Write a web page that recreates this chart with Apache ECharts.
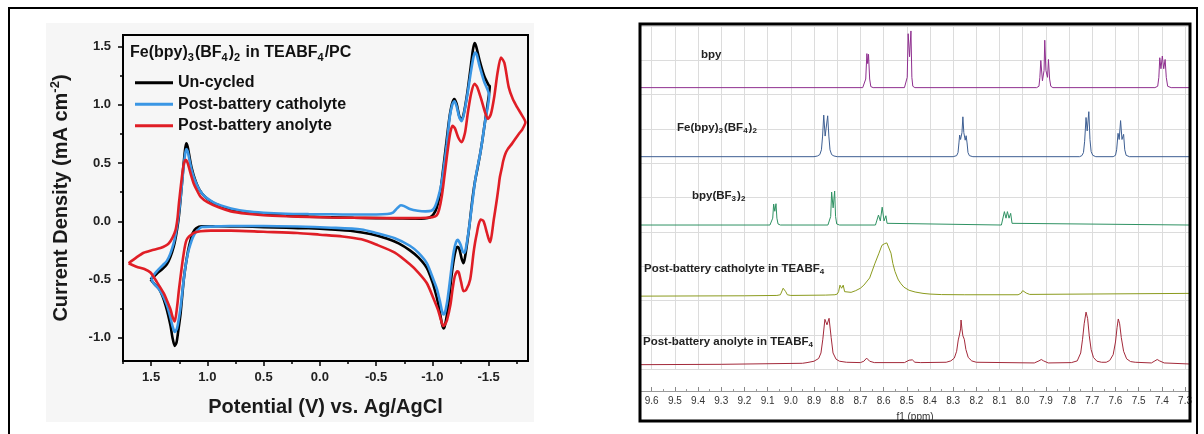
<!DOCTYPE html>
<html><head><meta charset="utf-8">
<script src="https://cdn.jsdelivr.net/npm/echarts@6/dist/echarts.min.js"></script>
<style>html,body{margin:0;padding:0;background:#fff}#c{width:1204px;height:434px}</style>
</head><body><div id="c"></div>
<script>
// ---------------- CV panel data ----------------
const cvNames = ['Un-cycled', 'Post-battery catholyte', 'Post-battery anolyte'];
const cvXTicks = [-1.5, -1.0, -0.5, 0.0, 0.5, 1.0, 1.5];
const cvXMinorTicks = [-1.75, -1.25, -0.75, -0.25, 0.25, 0.75, 1.25, 1.75];
const cvYTicks = [-1.0, -0.5, 0.0, 0.5, 1.0, 1.5];
const cvYMinorTicks = [-0.75, -0.25, 0.25, 0.75, 1.25];

const uncycledCV = [
 [1.505,-0.50],[1.45,-0.45],[1.40,-0.41],[1.36,-0.37],[1.33,-0.31],[1.30,-0.22],[1.28,-0.13],[1.26,-0.01],
 [1.245,0.12],[1.23,0.28],[1.215,0.45],[1.20,0.60],[1.188,0.67],[1.175,0.64],[1.16,0.56],[1.14,0.46],
 [1.11,0.36],[1.07,0.27],[1.02,0.21],[0.95,0.16],[0.88,0.13],[0.79,0.10],[0.65,0.075],[0.5,0.06],
 [0.3,0.048],[0.1,0.04],[-0.1,0.035],[-0.3,0.03],[-0.5,0.027],[-0.7,0.024],[-0.85,0.022],[-0.93,0.024],
 [-0.98,0.035],[-1.01,0.06],[-1.04,0.12],[-1.07,0.25],[-1.09,0.40],[-1.12,0.64],[-1.15,0.88],[-1.175,1.01],
 [-1.195,1.05],[-1.215,1.01],[-1.24,0.90],[-1.26,0.87],[-1.28,0.93],[-1.31,1.10],[-1.34,1.32],[-1.36,1.47],
 [-1.375,1.53],[-1.39,1.50],[-1.42,1.38],[-1.46,1.25],[-1.50,1.17],[-1.51,1.16],
 [-1.49,1.00],[-1.47,0.87],[-1.445,0.70],[-1.425,0.58],[-1.40,0.45],[-1.38,0.35],[-1.36,0.22],[-1.345,0.10],
 [-1.33,-0.03],[-1.31,-0.18],[-1.29,-0.31],[-1.277,-0.36],[-1.26,-0.32],[-1.24,-0.24],[-1.223,-0.22],
 [-1.21,-0.24],[-1.19,-0.33],[-1.17,-0.47],[-1.15,-0.65],[-1.13,-0.80],[-1.11,-0.90],[-1.098,-0.92],
 [-1.085,-0.88],[-1.07,-0.80],[-1.05,-0.70],[-1.03,-0.62],[-1.0,-0.52],[-0.95,-0.40],[-0.875,-0.31],
 [-0.8,-0.25],[-0.7,-0.19],[-0.6,-0.15],[-0.45,-0.11],[-0.3,-0.085],[-0.1,-0.07],[0.1,-0.06],[0.3,-0.055],
 [0.5,-0.05],[0.7,-0.045],[0.9,-0.043],[1.05,-0.043],[1.10,-0.06],[1.13,-0.10],[1.164,-0.22],[1.19,-0.36],
 [1.21,-0.50],[1.238,-0.79],[1.26,-0.95],[1.274,-1.04],[1.29,-1.07],[1.31,-1.00],[1.327,-0.90],[1.35,-0.80],
 [1.372,-0.72],[1.40,-0.64],[1.43,-0.58],[1.47,-0.54],[1.505,-0.50]
];
const catholyteCV = [
 [1.50,-0.49],[1.45,-0.43],[1.40,-0.38],[1.36,-0.34],[1.33,-0.28],[1.30,-0.19],[1.28,-0.10],[1.26,0.02],
 [1.245,0.14],[1.23,0.28],[1.215,0.43],[1.20,0.56],[1.188,0.62],[1.175,0.60],[1.16,0.53],[1.14,0.44],
 [1.11,0.35],[1.07,0.27],[1.02,0.21],[0.95,0.165],[0.88,0.135],[0.79,0.11],[0.65,0.085],[0.5,0.073],
 [0.3,0.065],[0.1,0.062],[-0.1,0.06],[-0.3,0.058],[-0.5,0.058],[-0.6,0.062],[-0.65,0.075],[-0.69,0.115],
 [-0.72,0.138],[-0.75,0.13],[-0.8,0.105],[-0.87,0.09],[-0.94,0.085],[-0.99,0.09],[-1.02,0.12],[-1.05,0.20],
 [-1.08,0.32],[-1.10,0.45],[-1.128,0.66],[-1.155,0.90],[-1.18,1.01],[-1.196,1.03],[-1.215,0.99],[-1.24,0.89],
 [-1.26,0.86],[-1.28,0.92],[-1.31,1.08],[-1.34,1.27],[-1.365,1.41],[-1.38,1.45],[-1.395,1.43],[-1.42,1.33],
 [-1.46,1.20],[-1.505,1.08],
 [-1.49,0.97],[-1.47,0.866],[-1.445,0.70],[-1.425,0.58],[-1.40,0.46],[-1.38,0.35],[-1.36,0.20],[-1.35,0.125],
 [-1.335,0.01],[-1.32,-0.10],[-1.30,-0.22],[-1.285,-0.27],[-1.27,-0.26],[-1.25,-0.20],[-1.225,-0.16],
 [-1.21,-0.18],[-1.19,-0.26],[-1.17,-0.40],[-1.15,-0.56],[-1.13,-0.70],[-1.11,-0.79],[-1.098,-0.80],
 [-1.085,-0.77],[-1.07,-0.70],[-1.04,-0.58],[-1.009,-0.50],[-0.95,-0.36],[-0.875,-0.27],[-0.8,-0.21],
 [-0.666,-0.145],[-0.5,-0.10],[-0.37,-0.07],[-0.1,-0.055],[0.2,-0.045],[0.5,-0.04],[0.8,-0.04],[0.95,-0.045],
 [1.05,-0.05],[1.12,-0.12],[1.164,-0.24],[1.19,-0.36],[1.21,-0.50],[1.24,-0.75],[1.27,-0.92],[1.29,-0.95],
 [1.31,-0.90],[1.33,-0.82],[1.36,-0.72],[1.40,-0.63],[1.44,-0.57],[1.48,-0.53],[1.50,-0.49]
];
const anolyteCV = [
 [1.70,-0.36],[1.63,-0.31],[1.566,-0.27],[1.50,-0.25],[1.417,-0.23],[1.37,-0.21],[1.343,-0.19],[1.31,-0.14],
 [1.283,-0.075],[1.265,0.03],[1.253,0.154],[1.235,0.31],[1.214,0.47],[1.20,0.52],[1.19,0.525],[1.175,0.50],
 [1.149,0.41],[1.12,0.32],[1.09,0.26],[1.06,0.21],[1.0,0.165],[0.9,0.12],[0.79,0.085],[0.65,0.065],
 [0.5,0.052],[0.3,0.043],[0.1,0.037],[-0.1,0.032],[-0.3,0.03],[-0.5,0.028],[-0.7,0.027],[-0.85,0.027],
 [-0.95,0.03],[-1.0,0.035],[-1.038,0.05],[-1.06,0.10],[-1.083,0.21],[-1.105,0.37],[-1.128,0.55],[-1.157,0.75],
 [-1.179,0.82],[-1.20,0.80],[-1.23,0.72],[-1.26,0.68],[-1.29,0.76],[-1.315,0.93],[-1.345,1.10],[-1.375,1.18],
 [-1.40,1.15],[-1.44,1.03],[-1.47,0.93],[-1.494,0.88],[-1.52,0.92],[-1.55,1.07],[-1.58,1.28],[-1.61,1.407],
 [-1.64,1.36],[-1.679,1.15],[-1.715,1.05],[-1.753,0.98],[-1.79,0.92],[-1.827,0.85],
 [-1.80,0.79],[-1.768,0.75],[-1.708,0.667],[-1.67,0.62],[-1.649,0.58],[-1.63,0.52],[-1.619,0.467],[-1.60,0.38],
 [-1.589,0.30],[-1.575,0.20],[-1.559,0.097],[-1.545,0.01],[-1.53,-0.10],[-1.514,-0.18],[-1.50,-0.15],
 [-1.485,-0.10],[-1.455,0.0],[-1.43,0.015],[-1.41,-0.03],[-1.396,-0.10],[-1.38,-0.18],[-1.366,-0.27],
 [-1.336,-0.50],[-1.30,-0.59],[-1.277,-0.60],[-1.255,-0.52],[-1.235,-0.44],[-1.223,-0.43],[-1.20,-0.47],
 [-1.18,-0.58],[-1.16,-0.72],[-1.13,-0.85],[-1.11,-0.89],[-1.098,-0.90],[-1.08,-0.86],[-1.05,-0.76],
 [-1.009,-0.66],[-0.95,-0.53],[-0.875,-0.44],[-0.8,-0.37],[-0.666,-0.27],[-0.5,-0.20],[-0.37,-0.155],
 [-0.2,-0.13],[0.0,-0.115],[0.2,-0.10],[0.5,-0.09],[0.79,-0.08],[0.97,-0.08],[1.06,-0.085],[1.12,-0.10],
 [1.185,-0.16],[1.214,-0.30],[1.235,-0.45],[1.253,-0.59],[1.27,-0.74],[1.29,-0.86],[1.31,-0.82],[1.327,-0.76],
 [1.36,-0.68],[1.387,-0.62],[1.45,-0.52],[1.506,-0.44],[1.56,-0.41],[1.63,-0.39],[1.70,-0.36]
];

// ---------------- NMR panel data ----------------
const nmrNames = ['bpy', 'Fe(bpy)3(BF4)2', 'bpy(BF3)2', 'Post-battery catholyte in TEABF4', 'Post-battery anolyte in TEABF4'];
const nmrTicks = [9.6,9.5,9.4,9.3,9.2,9.1,9.0,8.9,8.8,8.7,8.6,8.5,8.4,8.3,8.2,8.1,8.0,7.9,7.8,7.7,7.6,7.5,7.4,7.3];
const nmrMinorTicks = [9.55,9.45,9.35,9.25,9.15,9.05,8.95,8.85,8.75,8.65,8.55,8.45,8.35,8.25,8.15,8.05,7.95,7.85,7.75,7.65,7.55,7.45,7.35];

const bpySpec = [
 [9.646,0],[8.69,0],[8.682,0.03],[8.677,0.25],[8.672,0.99],[8.6685,0.7],[8.665,0.97],[8.660,0.25],[8.655,0.03],[8.645,0],
 [8.51,0],[8.502,0.04],[8.498,0.3],[8.494,1.57],[8.488,0.9],[8.482,1.65],[8.478,0.3],[8.474,0.04],[8.465,0],
 [7.94,0],[7.93,0.04],[7.926,0.3],[7.922,0.79],[7.915,0.2],[7.908,0.5],[7.905,1.38],[7.90,0.5],[7.893,0.3],
 [7.889,0.82],[7.884,0.25],[7.879,0.04],[7.87,0],
 [7.43,0],[7.418,0.04],[7.413,0.3],[7.409,0.87],[7.404,0.55],[7.398,0.92],[7.392,0.55],[7.386,0.82],[7.381,0.3],
 [7.375,0.04],[7.36,0],[7.283,0]
];
const feSpec = [
 [9.646,0],[8.90,0],[8.885,0.02],[8.875,0.06],[8.868,0.2],[8.863,0.6],[8.858,1.21],[8.852,0.6],[8.849,0.55],
 [8.841,1.19],[8.836,0.6],[8.831,0.2],[8.824,0.06],[8.814,0.02],[8.80,0],
 [8.30,0],[8.285,0.03],[8.279,0.12],[8.275,0.4],[8.272,0.63],[8.268,0.5],[8.262,0.7],[8.258,1.16],[8.254,0.7],
 [8.248,0.48],[8.244,0.61],[8.24,0.4],[8.236,0.12],[8.23,0.03],[8.215,0],
 [7.755,0],[7.745,0.03],[7.738,0.12],[7.733,0.45],[7.727,1.14],[7.722,0.75],[7.715,1.31],[7.71,0.5],[7.705,0.15],
 [7.698,0.04],[7.685,0],
 [7.61,0],[7.60,0.04],[7.595,0.2],[7.589,0.68],[7.584,0.5],[7.578,1.05],[7.572,0.5],[7.565,0.65],[7.56,0.2],
 [7.554,0.04],[7.54,0],[7.283,0]
];
const bf3Spec = [
 [9.646,0],[9.09,0],[9.082,0.03],[9.078,0.2],[9.074,0.61],[9.069,0.4],[9.064,0.62],[9.06,0.2],[9.055,0.03],[9.045,0],
 [8.84,0],[8.832,0.03],[8.828,0.25],[8.824,0.96],[8.8175,0.5],[8.811,0.99],[8.807,0.25],[8.802,0.03],[8.79,0],
 [8.635,0],[8.627,0.05],[8.622,0.29],[8.614,0.12],[8.606,0.52],[8.598,0.12],[8.59,0.27],[8.585,0.05],[8.577,0],
 [8.092,0],[8.085,0.05],[8.079,0.39],[8.072,0.2],[8.066,0.39],[8.059,0.2],[8.052,0.34],[8.046,0.05],[8.04,0],
 [7.283,0]
];
const catholyteNMR = [
 [9.646,-0.03],[9.2,-0.02],[9.06,-0.01],[9.045,0.01],[9.038,0.12],[9.033,0.2],[9.028,0.19],[9.022,0.1],[9.015,0.01],
 [9.0,-0.01],[8.85,0.0],[8.81,0.01],[8.80,0.03],[8.794,0.1],[8.788,0.29],[8.781,0.2],[8.774,0.29],[8.768,0.1],
 [8.76,0.07],[8.74,0.08],[8.72,0.13],[8.70,0.2],[8.685,0.29],[8.66,0.5],[8.638,0.91],[8.62,1.22],[8.607,1.45],
 [8.595,1.5],[8.586,1.52],[8.578,1.48],[8.568,1.22],[8.56,0.92],[8.551,0.69],[8.54,0.5],[8.536,0.44],[8.525,0.33],
 [8.512,0.23],[8.49,0.14],[8.464,0.09],[8.43,0.05],[8.40,0.03],[8.35,0.015],[8.25,0.01],
 [8.02,0.01],[8.008,0.05],[8.0,0.13],[7.993,0.14],[7.985,0.06],[7.97,0.02],[7.283,0.05]
];
const anolyteNMR = [
 [9.646,-0.04],[9.3,-0.03],[8.95,0.0],[8.93,0.02],[8.9,0.06],[8.88,0.14],[8.87,0.3],[8.862,0.7],[8.853,1.28],
 [8.844,1.12],[8.835,1.31],[8.826,0.75],[8.818,0.3],[8.805,0.12],[8.79,0.06],[8.76,0.03],
 [8.70,0.02],[8.685,0.06],[8.673,0.15],[8.66,0.06],[8.64,0.02],
 [8.51,0.02],[8.49,0.09],[8.484,0.11],[8.476,0.1],[8.465,0.03],[8.44,0.02],
 [8.33,0.03],[8.31,0.07],[8.295,0.15],[8.285,0.35],[8.278,0.68],[8.273,0.82],[8.268,1.0],[8.266,1.26],[8.262,1.0],
 [8.258,0.8],[8.252,0.7],[8.245,0.4],[8.235,0.17],[8.22,0.07],[8.2,0.03],
 [7.95,0.01],[7.93,0.07],[7.92,0.11],[7.91,0.07],[7.89,0.01],
 [7.79,0.02],[7.765,0.07],[7.75,0.3],[7.742,0.7],[7.735,1.15],[7.727,1.49],[7.72,1.3],[7.713,0.8],[7.705,0.4],
 [7.695,0.17],[7.68,0.06],[7.66,0.03],
 [7.64,0.03],[7.625,0.08],[7.61,0.25],[7.60,0.62],[7.593,1.05],[7.588,1.29],[7.582,1.15],[7.575,0.75],[7.565,0.35],
 [7.552,0.13],[7.535,0.05],[7.515,0.03],
 [7.445,0.01],[7.43,0.07],[7.42,0.11],[7.41,0.07],[7.39,0.01],[7.283,-0.02]
];
const nmrStackOffsets = [8.2, 6.19, 4.2, 2.16, 0.175];

// ---------------- build ----------------
const FONT = '"Liberation Sans", Arial, sans-serif';
const cvColors = ['#000000', '#3a96e4', '#e01e26'];
const nmrColors = ['#8f2f8f', '#3e5f93', '#2f9263', '#8b9b1e', '#a3293a'];
const cvData = [uncycledCV, catholyteCV, anolyteCV];
const nmrData = [bpySpec, feSpec, bf3Spec, catholyteNMR, anolyteNMR];

const cvSeries = cvData.map((d, i) => ({
  name: cvNames[i], type: 'line', xAxisIndex: 0, yAxisIndex: 0, data: d,
  symbol: 'none', smooth: 0.25, lineStyle: { color: cvColors[i], width: 2.6 }, itemStyle: { color: cvColors[i] },
  z: 3 + i
}));
const nmrSeries = nmrData.map((d, i) => ({
  name: nmrNames[i], type: 'line', xAxisIndex: 2, yAxisIndex: 2,
  data: d.map(p => [p[0], p[1] + nmrStackOffsets[i]]),
  symbol: 'none', smooth: false, lineStyle: { color: nmrColors[i], width: 1 }, z: 3
}));

function sub(parts) {
  return parts.map(p => (p[1] ? '{s|' : '{m|') + p[0] + '}').join('');
}
function richStyle(fs, lh, sfs, color) {
  return {
    m: { font: 'bold ' + fs + 'px ' + FONT, lineHeight: lh, fill: color, verticalAlign: 'middle' },
    s: { font: 'bold ' + sfs + 'px ' + FONT, lineHeight: Math.round(sfs * 0.8), fill: color, verticalAlign: 'bottom', padding: [0, 1, 0, 0] }
  };
}

const nmrLabelParts = [
  [['bpy', 0]],
  [['Fe(bpy)', 0], ['3', 1], ['(BF', 0], ['4', 1], [')', 0], ['2', 1]],
  [['bpy(BF', 0], ['3', 1], [')', 0], ['2', 1]],
  [['Post-battery catholyte in TEABF', 0], ['4', 1]],
  [['Post-battery anolyte in TEABF', 0], ['4', 1]]
];
const nmrLabelPos = [[701, 48], [677, 121], [692, 189], [644, 262], [643, 335]];

const graphics = [
  { type: 'rect', shape: { x: 46, y: 23, width: 488, height: 399 }, style: { fill: '#f6f6f6' }, z: -10, silent: true },
  { type: 'rect', shape: { x: 9, y: 8, width: 1188, height: 440 }, style: { fill: 'none', stroke: '#000', lineWidth: 2 }, z: 100, silent: true },
  { type: 'rect', shape: { x: 640, y: 24, width: 550, height: 397 }, style: { fill: 'none', stroke: '#000', lineWidth: 3 }, z: 100, silent: true },
  { type: 'text', x: 130, y: 43, z: 50,
    style: { text: sub([['Fe(bpy)', 0], ['3', 1], ['(BF', 0], ['4', 1], [')', 0], ['2', 1], [' in TEABF', 0], ['4', 1], ['/PC', 0]]),
      rich: richStyle(16, 20, 11, '#111') } }
];
nmrLabelParts.forEach((parts, i) => {
  graphics.push({ type: 'text', x: nmrLabelPos[i][0], y: nmrLabelPos[i][1], z: 50,
    style: { text: sub(parts), rich: richStyle(11.5, 14, 8, '#222') } });
});

const chart = echarts.init(document.getElementById('c'), null, { renderer: 'canvas' });
chart.setOption({
  backgroundColor: '#ffffff',
  animation: false,
  legend: {
    data: cvNames.map(n => ({ name: n, icon: 'rect' })), orient: 'vertical', left: 130, top: 67,
    itemWidth: 38, itemHeight: 3, itemGap: 0,
    textStyle: { fontFamily: FONT, fontWeight: 'bold', fontSize: 16, color: '#111', lineHeight: 21.5 },
    selectedMode: false
  },
  grid: [
    { left: 123, top: 35, width: 405, height: 326, show: true, borderColor: '#000', borderWidth: 2, backgroundColor: 'transparent', containLabel: false },
    { left: 641, top: 25.8, width: 548, height: 343.5, show: false, containLabel: false }
  ],
  xAxis: [
    { type: 'value', gridIndex: 0, min: -1.85, max: 1.75, inverse: true, position: 'bottom',
      name: 'Potential (V) vs. Ag/AgCl', nameLocation: 'middle', nameGap: 34,
      nameTextStyle: { fontFamily: FONT, fontWeight: 'bold', fontSize: 20, color: '#1a1a1a', lineHeight: 24 },
      axisLine: { show: true, onZero: false, lineStyle: { color: '#000', width: 2 } },
      axisTick: { show: true, inside: false, length: 5, customValues: cvXTicks, lineStyle: { color: '#000', width: 1.5 } },
      axisLabel: { show: true, customValues: cvXTicks, margin: 10, fontFamily: FONT, fontWeight: 'bold', fontSize: 13, color: '#222',
        formatter: v => Number(v).toFixed(1) },
      splitLine: { show: false } },
    { type: 'value', gridIndex: 0, min: -1.85, max: 1.75, inverse: true, position: 'bottom',
      axisLine: { show: false, onZero: false }, axisLabel: { show: false }, splitLine: { show: false },
      axisTick: { show: true, inside: false, length: 3, customValues: cvXMinorTicks, lineStyle: { color: '#000', width: 1.5 } } },
    { type: 'value', gridIndex: 1, min: 7.283, max: 9.646, inverse: true, position: 'bottom', offset: 21.7,
      name: 'f1 (ppm)', nameLocation: 'middle', nameGap: 16,
      nameTextStyle: { fontFamily: FONT, fontSize: 10, color: '#333', lineHeight: 12 },
      axisLine: { show: true, onZero: false, lineStyle: { color: '#9a9a9a', width: 1 } },
      axisTick: { show: true, inside: true, length: 4, customValues: nmrTicks, lineStyle: { color: '#888' } },
      axisLabel: { show: true, customValues: nmrTicks, margin: 5, fontFamily: FONT, fontSize: 10, color: '#333',
        formatter: v => Number(v).toFixed(1) },
      splitLine: { show: true, lineStyle: { color: '#dcdcdc', width: 1 } } },
    { type: 'value', gridIndex: 1, min: 7.283, max: 9.646, inverse: true, position: 'bottom', offset: 21.7,
      axisLine: { show: false, onZero: false }, axisLabel: { show: false }, splitLine: { show: false },
      axisTick: { show: true, inside: true, length: 2, customValues: nmrMinorTicks, lineStyle: { color: '#999' } } }
  ],
  yAxis: [
    { type: 'value', gridIndex: 0, min: -1.2, max: 1.6, position: 'left',
      name: '{m|Current Density (mA cm}{sup|-2}{m|)}', nameLocation: 'middle', nameGap: 50, nameRotate: 90,
      nameTextStyle: { rich: {
        m: { fontFamily: FONT, fontWeight: 'bold', fontSize: 20, color: '#1a1a1a', lineHeight: 24 },
        sup: { fontFamily: FONT, fontWeight: 'bold', fontSize: 13, color: '#1a1a1a', lineHeight: 12, verticalAlign: 'top' } } },
      axisLine: { show: true, onZero: false, lineStyle: { color: '#000', width: 2 } },
      axisTick: { show: true, inside: false, length: 5, customValues: cvYTicks, lineStyle: { color: '#000', width: 1.5 } },
      axisLabel: { show: true, customValues: cvYTicks, margin: 12, fontFamily: FONT, fontWeight: 'bold', fontSize: 13, color: '#222',
        formatter: v => Number(v).toFixed(1) },
      splitLine: { show: false } },
    { type: 'value', gridIndex: 0, min: -1.2, max: 1.6, position: 'left',
      axisLine: { show: false, onZero: false }, axisLabel: { show: false }, splitLine: { show: false },
      axisTick: { show: true, inside: false, length: 3, customValues: cvYMinorTicks, lineStyle: { color: '#000', width: 1.5 } } },
    { type: 'value', gridIndex: 1, min: 0, max: 10, interval: 1,
      axisLine: { show: false, onZero: false }, axisTick: { show: false }, axisLabel: { show: false },
      splitLine: { show: true, lineStyle: { color: '#dcdcdc', width: 1 } } }
  ],
  graphic: { elements: graphics },
  series: cvSeries.concat(nmrSeries)
});
</script>
</body></html>
